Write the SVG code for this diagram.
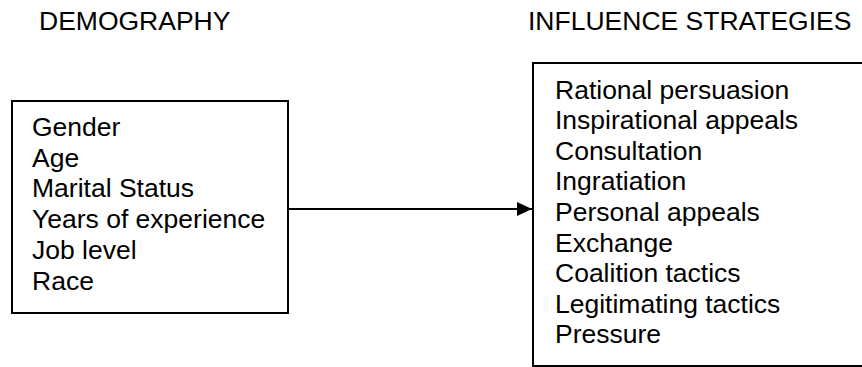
<svg xmlns="http://www.w3.org/2000/svg" width="862" height="367" viewBox="0 0 862 367">
<defs>
<style>
text{font-family:"Liberation Sans",Arial,sans-serif;font-size:26.5px;fill:#000}
.box{fill:#fff;stroke:#000;stroke-width:2}
.conn{stroke:#000;stroke-width:2;fill:none}
</style>
<marker id="arr" markerUnits="userSpaceOnUse" markerWidth="16" markerHeight="14" refX="15" refY="7" orient="auto">
<path d="M0,0 L15,7 L0,14 Z" fill="#000"/>
</marker>
</defs>
<rect width="862" height="367" fill="#fff"/>
<g id="title-demography"><text x="39" y="30">DEMOGRAPHY</text></g>
<g id="title-influence"><text x="528" y="30">INFLUENCE STRATEGIES</text></g>
<g id="demography">
<rect class="box" x="12" y="101" width="276" height="212"/>
<text x="32" y="136">Gender</text>
<text x="32" y="166.7">Age</text>
<text x="32" y="197.4">Marital Status</text>
<text x="32" y="228.1">Years of experience</text>
<text x="32" y="258.8">Job level</text>
<text x="32" y="289.5">Race</text>
</g>
<g id="influence">
<rect class="box" x="533" y="63" width="340" height="303"/>
<text x="555" y="98.5">Rational persuasion</text>
<text x="555" y="129.1">Inspirational appeals</text>
<text x="555" y="159.7">Consultation</text>
<text x="555" y="190.3">Ingratiation</text>
<text x="555" y="220.9">Personal appeals</text>
<text x="555" y="251.5">Exchange</text>
<text x="555" y="282.1">Coalition tactics</text>
<text x="555" y="312.7">Legitimating tactics</text>
<text x="555" y="343.3">Pressure</text>
</g>
<g id="connectors">
<line class="conn" x1="289" y1="209" x2="532" y2="209" marker-end="url(#arr)"/>
</g>
</svg>
